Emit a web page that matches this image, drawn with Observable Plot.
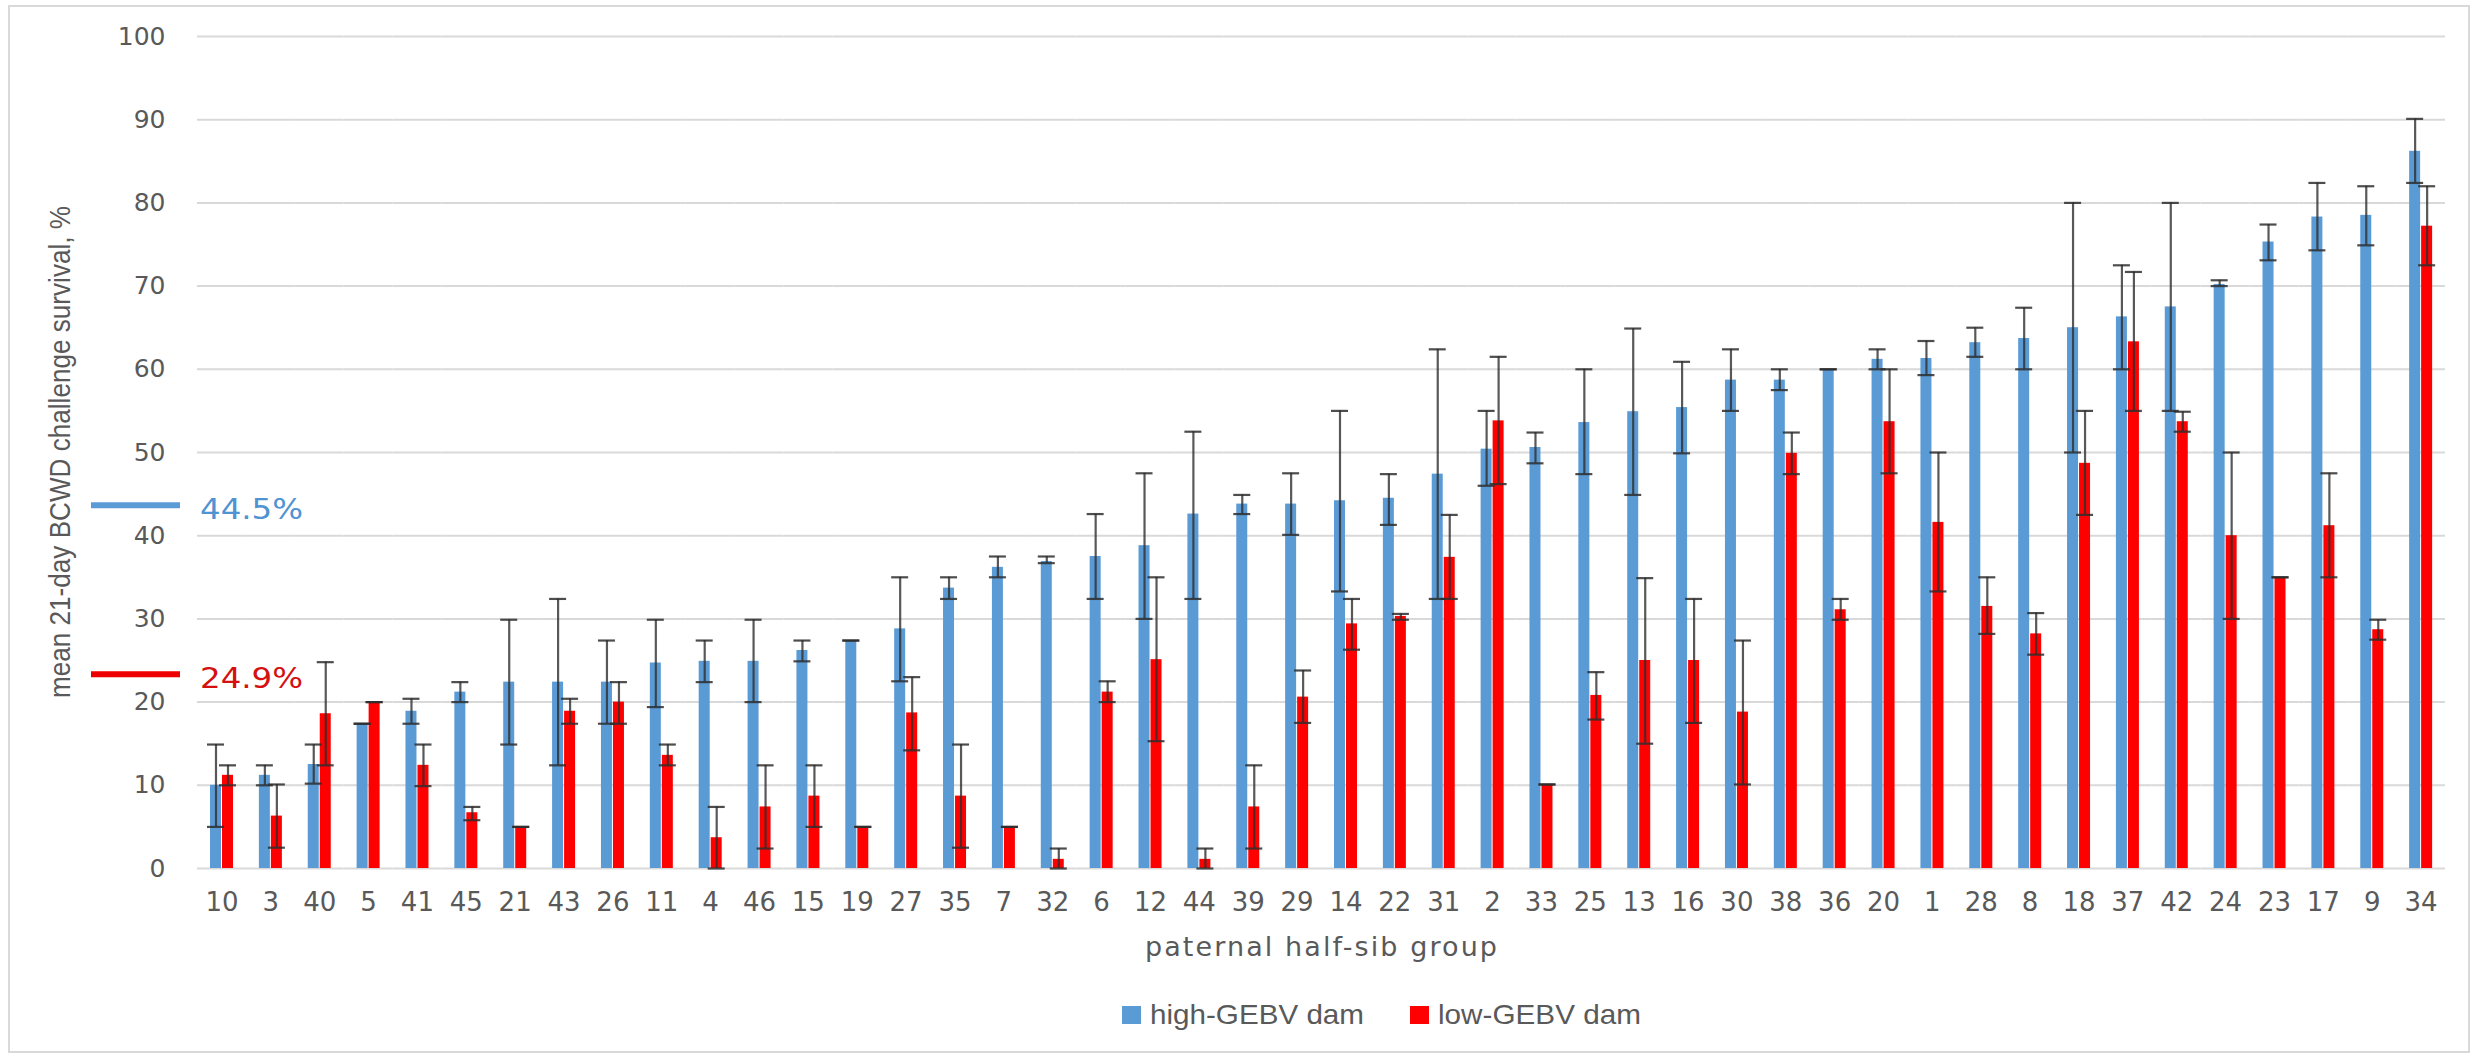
<!DOCTYPE html>
<html><head><meta charset="utf-8">
<script src="https://cdn.jsdelivr.net/npm/d3@7"></script>
<script src="https://cdn.jsdelivr.net/npm/@observablehq/plot@0.6"></script>
<style>
body{margin:0;background:#fff;}
#wrap{position:relative;width:2476px;height:1058px;overflow:hidden;background:#fff;}
#frame{position:absolute;left:8px;top:5px;width:2462px;height:1048px;border:2px solid #d9d9d9;box-sizing:border-box;}
#chart{position:absolute;left:0;top:0;}
#overlay{position:absolute;left:0;top:0;pointer-events:none;}
</style></head><body>
<div id="wrap">
  <div id="frame"></div>
  <div id="chart"></div>
  <div id="overlay"></div>
</div>
<script>
const groups = ["10","3","40","5","41","45","21","43","26","11","4","46","15","19","27","35","7","32","6","12","44","39","29","14","22","31","2","33","25","13","16","30","38","36","20","1","28","8","18","37","42","24","23","17","9","34"];
const seriesNames = ["high-GEBV dam","low-GEBV dam"];
const seriesColors = ["#5b9bd5","#ff0000"];
const highMean = [10.0,11.2,12.5,17.4,18.9,21.2,22.4,22.4,22.4,24.7,24.9,24.9,26.2,27.4,28.8,33.7,36.2,36.9,37.5,38.8,42.6,43.8,43.8,44.2,44.5,47.4,50.4,50.6,53.6,54.9,55.4,58.7,58.7,60.0,61.2,61.3,63.2,63.7,65.0,66.3,67.5,70.2,75.3,78.3,78.5,86.2];
const highLo = [5.0,10.0,10.2,17.4,17.4,20.0,14.9,12.4,17.4,19.4,22.4,20.0,24.9,27.4,22.5,32.4,35.0,36.7,32.4,30.0,32.4,42.6,40.1,33.3,41.3,32.4,46.0,48.7,47.4,44.9,49.9,55.0,57.5,60.0,60.0,59.3,61.5,60.0,50.0,60.0,55.0,70.0,73.1,74.3,74.9,82.4];
const highHi = [14.9,12.4,14.9,17.4,20.4,22.4,29.9,32.4,27.4,29.9,27.4,29.9,27.4,27.4,35.0,35.0,37.5,37.5,42.6,47.5,52.5,44.9,47.5,55.0,47.4,62.4,55.0,52.4,60.0,64.9,60.9,62.4,60.0,60.0,62.4,63.4,65.0,67.4,80.0,72.5,80.0,70.7,77.4,82.4,82.0,90.1];
const lowMean = [11.2,6.3,18.6,20.0,12.4,6.7,5.0,18.9,20.0,13.6,3.7,7.4,8.7,5.0,18.7,8.7,5.0,1.1,21.2,25.1,1.1,7.4,20.6,29.4,30.3,37.4,53.8,10.1,20.8,25.0,25.0,18.8,49.9,31.1,53.7,41.6,31.5,28.2,48.7,63.3,53.7,40.0,35.0,41.2,28.7,77.2];
const lowLo = [10.0,2.5,12.4,20.0,9.9,5.8,5.0,17.4,17.4,12.4,0,2.4,5.0,5.0,14.2,2.5,5.0,0,20.0,15.3,0,2.4,17.5,26.3,29.9,32.4,46.2,10.1,17.9,15.0,17.5,10.1,47.4,29.9,47.5,33.3,28.2,25.7,42.5,55.0,52.5,30.0,35.0,35.0,27.5,72.5];
const lowHi = [12.4,10.1,24.8,20.0,14.9,7.4,5.0,20.4,22.4,14.9,7.4,12.4,12.4,5.0,23.0,14.9,5.0,2.4,22.5,35.0,2.4,12.4,23.8,32.4,30.6,42.5,61.5,10.1,23.6,34.9,32.4,27.4,52.4,32.4,60.0,50.0,35.0,30.7,55.0,71.7,54.9,50.0,35.0,47.5,29.9,82.0];
const yTicks = [0,10,20,30,40,50,60,70,80,90,100];
const yTitle = "mean 21-day BCWD challenge survival, %";
const xTitle = "paternal half-sib group";
const meanLabels = ["44.5%","24.9%"];
const meanMarkerY = [43.6,23.3]; // positions of the side markers

const data = groups.flatMap((g,i)=>[
  {group:g, series:seriesNames[0], mean:highMean[i], lo:highLo[i], hi:highHi[i]},
  {group:g, series:seriesNames[1], mean:lowMean[i], lo:lowLo[i], hi:lowHi[i]}
]);

const errColor = "#2e2e2e";
const plot = Plot.plot({
  width: 2476,
  height: 930,
  marginLeft: 197,
  marginRight: 31,
  marginTop: 36,
  marginBottom: 62,
  style: {fontFamily: "DejaVu Sans, sans-serif", fontSize: "25px", color: "#595959", background: "transparent"},
  fx: {domain: groups, padding: 0},
  x: {domain: seriesNames, paddingInner: 0.08, paddingOuter: 0.92, axis: null},
  y: {domain: [0,100]},
  color: {domain: seriesNames, range: seriesColors},
  marks: [
    Plot.gridY(yTicks, {stroke: "#d9d9d9", strokeOpacity: 1, strokeWidth: 2}),
    Plot.axisY(yTicks, {tickSize: 0, tickPadding: 32, label: null, fill: "#595959", fontSize: 25}),
    Plot.axisFx({anchor: "bottom", tickSize: 0, tickPadding: 24, label: null, fill: "#595959", fontSize: 26}),
    Plot.barY(data, {fx: "group", x: "series", y: "mean", fill: "series"}),
    Plot.ruleX(data, {fx: "group", x: "series", y1: "lo", y2: "hi", stroke: errColor, strokeOpacity: 0.8, strokeWidth: 2.2}),
    Plot.tickY(data, {fx: "group", x: "series", y: "hi", stroke: errColor, strokeOpacity: 0.85, strokeWidth: 2.2, insetLeft: -3, insetRight: -3}),
    Plot.tickY(data, {fx: "group", x: "series", y: "lo", stroke: errColor, strokeOpacity: 0.85, strokeWidth: 2.2, insetLeft: -3, insetRight: -3})
  ]
});
document.getElementById("chart").appendChild(plot);

// side markers for the overall means, positioned through the plot's y scale
const ys = plot.scale("y");
const svg = d3.select(plot);
const markerColors = ["#5b9bd5","#ee0000"];
const textColors = ["#4f93d2","#d41010"];
meanLabels.forEach((lab,i)=>{
  const y = ys.apply(meanMarkerY[i]);
  svg.append("line").attr("x1",91).attr("x2",180).attr("y1",y).attr("y2",y)
    .attr("stroke",markerColors[i]).attr("stroke-width",6);
  svg.append("text").attr("x",200).attr("y",y + 4).attr("dy","0.36em")
    .attr("text-anchor","start")
    .attr("fill",textColors[i]).attr("font-size",28).attr("font-family","DejaVu Sans, sans-serif")
    .attr("textLength",103).attr("lengthAdjust","spacingAndGlyphs")
    .text(lab);
});

// titles and legend (overlay)
const ov = d3.select("#overlay").append("svg").attr("width",2476).attr("height",1058);
ov.append("text")
  .attr("transform","translate(60,452) rotate(-90)")
  .attr("text-anchor","middle").attr("dy","0.35em")
  .attr("font-family","Liberation Sans, Arial, sans-serif").attr("font-size",29)
  .attr("fill","#595959").attr("textLength",492).attr("lengthAdjust","spacingAndGlyphs")
  .text(yTitle);
ov.append("text")
  .attr("x",1321).attr("y",947).attr("text-anchor","middle").attr("dy","0.35em")
  .attr("font-family","DejaVu Sans, sans-serif").attr("font-size",27)
  .attr("fill","#595959").attr("textLength",352).attr("lengthAdjust","spacing")
  .text(xTitle);
const legX = [1122, 1410];
const legW = [214, 203];
seriesNames.forEach((s,i)=>{
  ov.append("rect").attr("x",legX[i]).attr("y",1006).attr("width",19).attr("height",18).attr("fill",seriesColors[i]);
  ov.append("text").attr("x",legX[i]+28).attr("y",1014).attr("dy","0.35em")
    .attr("font-family","Liberation Sans, Arial, sans-serif").attr("font-size",28)
    .attr("fill","#595959").attr("textLength",legW[i]).attr("lengthAdjust","spacingAndGlyphs")
    .text(s);
});
</script>
</body></html>
